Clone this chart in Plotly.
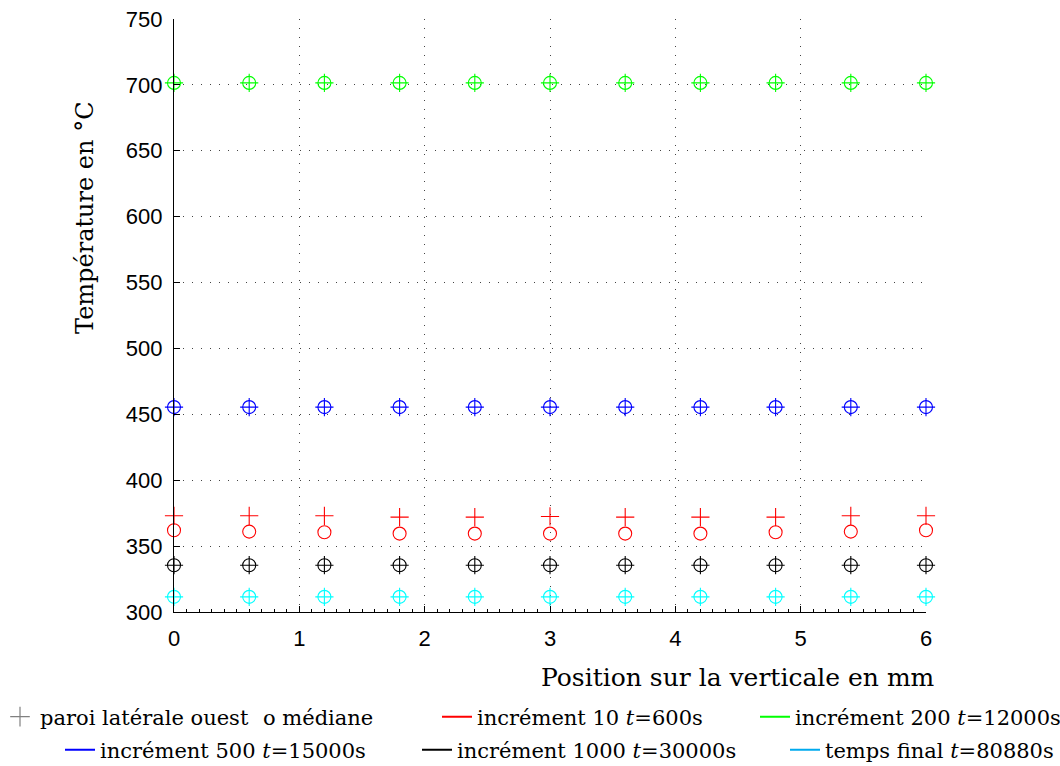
import plotly.graph_objects as go

# positions along the vertical (mm)
positions = [0, 0.6, 1.2, 1.8, 2.4, 3.0, 3.6, 4.2, 4.8, 5.4, 6.0]

# temperatures, paroi latérale ouest (+) and médiane (o)
inc10_paroi = [373, 373, 373, 372, 372, 372.5, 372, 372, 372, 373, 373]
inc10_mediane = [362, 361, 360.5, 359.5, 359.5, 359.5, 359.5, 359.5, 360.5, 361, 362]
inc200_paroi = [701.5] * 11
inc200_mediane = [701.5] * 11
inc500_paroi = [455.5] * 11
inc500_mediane = [455.5] * 11
inc1000_paroi = [335.5] * 11
inc1000_mediane = [335.5] * 11
final_paroi = [311.5] * 11
final_mediane = [311.5] * 11

series = [
    ("incrément 10 <i>t</i>=600s", inc10_paroi, inc10_mediane, "#ff0000", "#ff0000"),
    ("incrément 200 <i>t</i>=12000s", inc200_paroi, inc200_mediane, "#00ff00", "#00ff00"),
    ("incrément 500 <i>t</i>=15000s", inc500_paroi, inc500_mediane, "#0000ff", "#0000ff"),
    ("incrément 1000 <i>t</i>=30000s", inc1000_paroi, inc1000_mediane, "#000000", "#000000"),
    ("temps final <i>t</i>=80880s", final_paroi, final_mediane, "#00ffff", "#00aaee"),
]

serif = "DejaVu Serif"
fig = go.Figure()

for name, paroi, med, col, legcol in series:
    fig.add_trace(go.Scatter(x=positions, y=med, mode="markers", showlegend=False,
                             cliponaxis=False,
                             marker=dict(symbol="circle-open", size=13, color=col,
                                         line=dict(width=1.1, color=col))))
    fig.add_trace(go.Scatter(x=positions, y=paroi, mode="markers", showlegend=False,
                             cliponaxis=False,
                             marker=dict(symbol="cross-thin-open", size=13, color=col,
                                         line=dict(width=1.1, color=col))))

# legend entries, one small legend per entry so they can sit where the reference has them
# (left x in px, centre y in px)
legend_spots = [(0, 717), (223, 717), (437, 717), (755, 717), (60, 750), (417, 750), (785, 750)]

fig.add_trace(go.Scatter(x=[None], y=[None], mode="markers", name="paroi latérale ouest",
                         marker=dict(symbol="cross-thin-open", size=14, color="#808080",
                                     line=dict(width=1.2, color="#808080")),
                         legend="legend"))
fig.add_trace(go.Scatter(x=[None], y=[None], mode="markers", name="o médiane",
                         marker=dict(size=1, opacity=0), legend="legend2"))
for i, (name, paroi, med, col, legcol) in enumerate(series):
    fig.add_trace(go.Scatter(x=[None], y=[None], mode="lines", name=name,
                             line=dict(color=legcol, width=2),
                             legend="legend%d" % (i + 3)))

axis_common = dict(showline=True, linecolor="black", linewidth=1.2, mirror=False,
                   ticks="inside", ticklen=6, tickcolor="black", automargin=False,
                   ticklabelstandoff=6,
                   showgrid=True, gridcolor="#444444", griddash="1px,8px", gridwidth=1,
                   zeroline=False, tickfont=dict(family="Liberation Sans", size=22, color="black"))

fig.update_xaxes(range=[0, 6], dtick=1, tick0=0,
                 minor=dict(dtick=0.1, ticks="inside", ticklen=3, tickcolor="black", showgrid=False),
                 **axis_common)
fig.update_yaxes(range=[300, 750], dtick=50, tick0=300, **axis_common)

legend_style = dict(orientation="h", xref="container", yref="container",
                    xanchor="left", yanchor="middle",
                    font=dict(family=serif, size=21, color="black"),
                    bgcolor="rgba(0,0,0,0)", itemwidth=30, tracegroupgap=0)

legends = {}
for i, (lx, ly) in enumerate(legend_spots):
    key = "legend" if i == 0 else "legend%d" % (i + 1)
    legends[key] = dict(x=lx / 1060, y=1 - ly / 766, **legend_style)

fig.update_layout(
    width=1060, height=766,
    margin=dict(l=174, r=134, t=19, b=154, autoexpand=False),
    plot_bgcolor="white", paper_bgcolor="white",
    annotations=[
        dict(text="Position sur la verticale en mm", xref="paper", yref="paper",
             x=(937 - 174) / 752, y=(612 - 677) / 593, xanchor="right", yanchor="middle",
             showarrow=False, font=dict(family=serif, size=25, color="black")),
        dict(text="Température en °C", xref="paper", yref="paper",
             x=(85 - 174) / 752, y=(612 - 218) / 593, xanchor="center", yanchor="middle",
             textangle=-90, showarrow=False,
             font=dict(family=serif, size=24, color="black")),
    ],
    **legends,
)

fig.write_html("out.html", config={"displayModeBar": False},
               post_script="document.body.style.margin='0';")
